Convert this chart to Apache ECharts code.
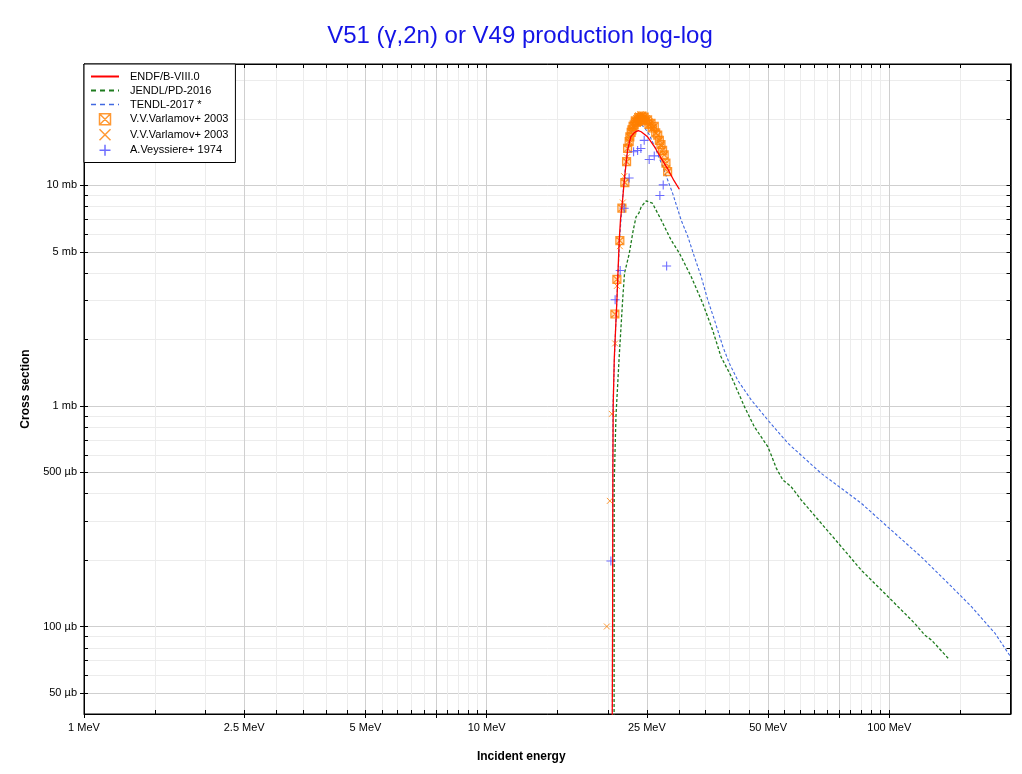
<!DOCTYPE html>
<html>
<head>
<meta charset="utf-8">
<script src="https://cdn.jsdelivr.net/npm/echarts@6/dist/echarts.min.js"></script>
<style>html,body{margin:0;padding:0;background:#fff}#c{width:1022px;height:774px}</style>
</head>
<body>
<div id="c"></div>
<script>
// ---- tick values ----
const xMajorTicks = [1, 2.5, 5, 7.5, 10, 25, 50, 75, 100];
const xMinorTicks = [1.5, 2, 3, 3.5, 4, 4.5, 5.5, 6, 6.5, 7, 8, 8.5, 9, 9.5, 15, 20, 30, 35, 40, 45, 55, 60, 65, 70, 80, 85, 90, 95, 150];
const xLabelValues = [1, 2.5, 5, 10, 25, 50, 100];
const yMajorTicks = [0.05, 0.1, 0.5, 1, 5, 10];
const yMinorTicks = [0.06, 0.07, 0.08, 0.09, 0.2, 0.3, 0.4, 0.6, 0.7, 0.8, 0.9, 2, 3, 4, 6, 7, 8, 9, 20, 30];

// ---- series data: [energy MeV, cross section mb] ----
const endfData = [[20.45,0.01],[20.55,0.1],[20.58,0.5],[20.62,1.0],[20.75,1.65],[21.06,3.0],[21.34,5.6],[21.5,7.0],[21.76,8.6],[22.0,10.8],[22.4,14.5],[22.8,16.6],[23.3,17.4],[23.8,17.7],[24.2,17.5],[25.1,16.6],[26.1,15.0],[27.1,13.3],[28.15,11.9],[29.2,10.5],[30.1,9.6]];
const jendlData = [[20.72,0.01],[20.74,0.45],[20.95,0.9],[21.34,1.67],[21.76,3.0],[22.0,4.0],[22.6,4.9],[23.1,6.2],[23.5,7.2],[23.9,7.5],[24.2,8.0],[24.9,8.5],[25.8,8.3],[27.1,7.0],[28.7,5.66],[30.1,4.93],[32.2,3.86],[34.4,2.92],[36.4,2.21],[38.2,1.67],[40.5,1.36],[43.7,0.99],[46.2,0.806],[49.9,0.654],[50.9,0.599],[52.4,0.522],[54.4,0.462],[57.0,0.431],[60.4,0.375],[67.7,0.294],[76.0,0.230],[85.2,0.180],[99.3,0.1365],[115.6,0.1034],[122.4,0.0915],[127.2,0.0869],[140,0.0718]];
const tendlData = [[20.5,0.01],[20.56,0.3],[20.6,1.0],[20.8,1.8],[21.1,3.3],[21.4,5.8],[21.7,8.2],[22.0,11.0],[22.3,14.0],[22.7,16.8],[23.2,18.3],[23.7,18.9],[24.2,18.9],[24.7,18.2],[25.33,17.0],[26.3,14.6],[27.35,12.2],[28.97,9.2],[30.4,6.97],[31.6,5.86],[32.8,4.75],[34.1,3.86],[35.4,3.03],[36.8,2.45],[38.6,1.86],[40.06,1.56],[42.0,1.31],[45.4,1.065],[49.9,0.864],[56.0,0.677],[67.7,0.495],[76.0,0.423],[85.2,0.362],[101,0.274],[120,0.207],[140,0.157],[160,0.123],[183,0.0932],[200,0.073]];
const varlamovA = [[20.82,2.61],[21.06,3.75],[21.42,5.62],[21.67,7.88],[22.04,10.3],[22.26,12.8],[22.39,14.7],[22.59,15.8],[22.68,16.6],[22.85,17.4],[22.95,17.85],[23.1,18.5],[23.25,18.8],[23.4,19.6],[23.55,19.3],[23.71,19.5],[23.85,20.3],[24.0,19.9],[24.16,20.2],[24.3,20.6],[24.45,19.8],[24.62,20.4],[24.8,19.6],[25.1,19.8],[25.3,18.9],[25.6,19.1],[25.8,18.2],[26.08,18.5],[26.3,17.3],[26.6,16.9],[26.85,16.0],[27.1,15.3],[27.35,14.4],[27.6,13.75],[27.88,12.6],[28.15,11.55]];
const varlamovB = [[19.89,0.1],[20.23,0.371],[20.46,0.92],[20.85,1.92],[21.06,3.5],[21.42,5.3],[21.79,8.36],[21.96,11.0],[22.3,13.4],[22.6,16.2],[22.9,18.2],[23.2,19.4],[23.5,20.2],[23.8,20.8],[24.1,21.0],[24.4,20.9],[24.7,20.6],[25.0,20.2],[25.4,19.5],[25.7,18.7],[26.0,18.0],[26.4,17.2],[26.8,16.3],[27.2,15.0],[27.5,14.0],[27.8,13.0],[28.1,12.0]];
const veyssiere = [[20.35,0.198],[20.85,3.03],[21.46,4.11],[21.96,7.88],[22.59,10.8],[23.17,14.2],[23.71,14.4],[24.16,14.7],[24.62,16.0],[25.33,13.1],[26.08,13.6],[26.93,9.0],[27.45,10.05],[27.99,4.31]];

const FONT = 'Liberation Sans, Arial, sans-serif';
const xAll = xMajorTicks.concat(xMinorTicks);
const yAll = yMajorTicks.concat(yMinorTicks);
const fmtX = v => v + ' MeV';
const fmtY = v => v >= 1 ? (Math.round(v * 100) / 100) + ' mb' : Math.round(v * 1000) + ' µb';

const X_MIN = 1, X_MAX = 200, Y_MIN = 0.0401, Y_MAX = 35.5;

function xAxisBase(extra) {
  return Object.assign({ type: 'log', logBase: 10, min: X_MIN, max: X_MAX, gridIndex: 0 }, extra);
}
function yAxisBase(extra) {
  return Object.assign({ type: 'log', logBase: 10, min: Y_MIN, max: Y_MAX, gridIndex: 0 }, extra);
}
const noSymbol = { color: 'rgba(0,0,0,0)', borderWidth: 0, opacity: 0 };
const outlineIcon = { color: 'rgba(0,0,0,0)', borderWidth: 1.5 };

const chart = echarts.init(document.getElementById('c'), null, { renderer: 'canvas' });
chart.setOption({
  backgroundColor: '#fff',
  animation: false,
  textStyle: { fontFamily: FONT },
  title: {
    text: 'V51 (γ,2n) or V49 production log-log',
    left: 515, top: 19, textAlign: 'center',
    textStyle: { color: '#1414e6', fontSize: 24, fontWeight: 'normal', fontFamily: FONT }
  },
  grid: { left: 84, right: 11.5, top: 64, bottom: 60, show: true, borderColor: '#000', borderWidth: 1, backgroundColor: '#fff', outerBoundsMode: 'none' },
  legend: {
    orient: 'vertical', left: 84, top: 64,
    backgroundColor: '#fff', borderColor: '#000', borderWidth: 1, borderRadius: 0,
    padding: [7, 4, 6, 6], itemGap: 3, itemWidth: 28, itemHeight: 11,
    textStyle: { fontSize: 11, color: '#000', fontFamily: FONT, padding: [0, 0, 0, 6] },
    data: [
      { name: 'ENDF/B-VIII.0', itemStyle: noSymbol, lineStyle: { width: 2 } },
      { name: 'JENDL/PD-2016', itemStyle: noSymbol, lineStyle: { width: 2, type: [5, 4] } },
      { name: 'TENDL-2017 *', itemStyle: noSymbol, lineStyle: { width: 1.6, type: [5, 4] } },
      { name: 'V.V.Varlamov+ 2003', itemStyle: outlineIcon },
      { name: 'V.V.Varlamov+ 2003 ', itemStyle: outlineIcon },
      { name: 'A.Veyssiere+ 1974', itemStyle: outlineIcon }
    ]
  },
  xAxis: [
    xAxisBase({
      position: 'bottom',
      axisLine: { show: false },
      axisTick: { show: true, inside: true, length: 4, customValues: xAll, lineStyle: { color: '#000' } },
      axisLabel: { show: false },
      splitLine: { show: true, lineStyle: { color: '#ececec', width: 1 } }
    }),
    xAxisBase({
      position: 'bottom',
      axisLine: { show: true, lineStyle: { color: '#000', width: 1 } },
      axisTick: { show: true, inside: false, length: 4, customValues: xMajorTicks, lineStyle: { color: '#000' } },
      axisLabel: { customValues: xLabelValues, formatter: fmtX, margin: 8, fontSize: 11, color: '#000', fontFamily: FONT },
      splitLine: { show: true, lineStyle: { color: '#cfcfcf', width: 1 } },
      name: 'Incident energy', nameLocation: 'middle', nameGap: 37,
      nameTextStyle: { fontWeight: 'bold', fontSize: 12, color: '#000', fontFamily: FONT, padding: [0, 52, 0, 0] }
    }),
    xAxisBase({
      position: 'top',
      axisLine: { show: true, lineStyle: { color: '#000', width: 1 } },
      axisTick: { show: true, inside: true, length: 4, customValues: xAll, lineStyle: { color: '#000' } },
      axisLabel: { show: false },
      splitLine: { show: false }
    })
  ],
  yAxis: [
    yAxisBase({
      position: 'left',
      axisLine: { show: false },
      axisTick: { show: true, inside: true, length: 4, customValues: yAll, lineStyle: { color: '#000' } },
      axisLabel: { show: false },
      splitLine: { show: true, lineStyle: { color: '#ececec', width: 1 } }
    }),
    yAxisBase({
      position: 'left',
      axisLine: { show: true, lineStyle: { color: '#000', width: 1 } },
      axisTick: { show: true, inside: false, length: 4, customValues: yMajorTicks, lineStyle: { color: '#000' } },
      axisLabel: { customValues: yMajorTicks, formatter: fmtY, margin: 7, fontSize: 11, color: '#000', fontFamily: FONT },
      splitLine: { show: true, lineStyle: { color: '#cfcfcf', width: 1 } },
      name: 'Cross section', nameLocation: 'middle', nameGap: 52, nameRotate: 90,
      nameTextStyle: { fontWeight: 'bold', fontSize: 12, color: '#000', fontFamily: FONT }
    }),
    yAxisBase({
      position: 'right',
      axisLine: { show: true, lineStyle: { color: '#000', width: 1.5 } },
      axisTick: { show: true, inside: true, length: 4, customValues: yAll, lineStyle: { color: '#000' } },
      axisLabel: { show: false },
      splitLine: { show: false }
    })
  ],
  series: [
    { name: 'JENDL/PD-2016', type: 'line', xAxisIndex: 1, yAxisIndex: 1, data: jendlData, symbol: 'none', z: 3,
      lineStyle: { color: '#1e7b1e', width: 1.3, type: [3, 2] }, itemStyle: { color: '#1e7b1e' } },
    { name: 'TENDL-2017 *', type: 'line', xAxisIndex: 1, yAxisIndex: 1, data: tendlData, symbol: 'none', z: 3,
      lineStyle: { color: '#4169e1', width: 1.1, type: [3, 2] }, itemStyle: { color: '#4169e1' } },
    { name: 'V.V.Varlamov+ 2003', type: 'scatter', xAxisIndex: 1, yAxisIndex: 1, data: varlamovA, z: 4,
      symbol: 'path://M0,0L10,0L10,10L0,10ZM0,0L10,10M10,0L0,10', symbolSize: 8,
      itemStyle: { color: 'rgba(255,128,0,0.3)', borderColor: '#ff8000', borderWidth: 1.2 } },
    { name: 'V.V.Varlamov+ 2003 ', type: 'scatter', xAxisIndex: 1, yAxisIndex: 1, data: varlamovB, z: 4,
      symbol: 'path://M0,0L10,10M10,0L0,10', symbolSize: 6,
      itemStyle: { color: 'rgba(0,0,0,0)', borderColor: '#ff8000', borderWidth: 1 } },
    { name: 'A.Veyssiere+ 1974', type: 'scatter', xAxisIndex: 1, yAxisIndex: 1, data: veyssiere, z: 4,
      symbol: 'path://M5,0L5,10M0,5L10,5', symbolSize: 9,
      itemStyle: { color: 'rgba(0,0,0,0)', borderColor: '#4a4aff', borderWidth: 1.1 } },
    { name: 'ENDF/B-VIII.0', type: 'line', xAxisIndex: 1, yAxisIndex: 1, data: endfData, symbol: 'none', z: 5,
      lineStyle: { color: '#ff0000', width: 1.3 }, itemStyle: { color: '#ff0000' } }
  ]
});
</script>
</body>
</html>
